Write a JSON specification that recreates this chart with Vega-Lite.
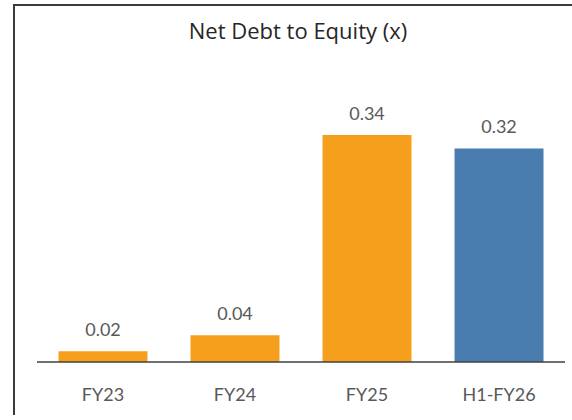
{
  "$schema": "https://vega.github.io/schema/vega-lite/v6.json",
  "autosize": {"type": "none"},
  "padding": {"left": 14, "top": 5, "right": -16, "bottom": -15},
  "width": 574,
  "height": 425,
  "background": "white",
  "config": {
    "view": {"stroke": "#3b3b3b", "strokeWidth": 2},
    "font": "Lato"
  },
  "title": {
    "text": "Net Debt to Equity (x)",
    "font": "Open Sans",
    "fontSize": 22,
    "fontWeight": "normal",
    "color": "#262626",
    "baseline": "alphabetic",
    "offset": -56,
    "dx": -3,
    "limit": 0
  },
  "data": {
    "values": [
      {"period": "FY23", "value": 0.016, "kind": "annual"},
      {"period": "FY24", "value": 0.04, "kind": "annual"},
      {"period": "FY25", "value": 0.34, "kind": "annual"},
      {"period": "H1-FY26", "value": 0.32, "kind": "half-year"}
    ]
  },
  "encoding": {
    "x": {"field": "period", "type": "nominal", "sort": null,
          "scale": {"paddingInner": 0.326, "paddingOuter": 0.337},
          "axis": {"title": null, "domain": false, "ticks": false, "tickSize": 0, "grid": false,
                   "labelAngle": 0, "labelFont": "Lato", "labelFontSize": 18, "labelColor": "#595959",
                   "labelBaseline": "alphabetic", "labelPadding": 38, "offset": -68}}
  },
  "layer": [
    {
      "mark": {"type": "bar"},
      "encoding": {
        "y": {"field": "value", "type": "quantitative",
              "scale": {"domain": [-0.1019, 0.5348], "nice": false, "zero": false},
              "axis": null},
        "y2": {"datum": 0},
        "color": {"field": "kind", "type": "nominal",
                  "scale": {"domain": ["annual", "half-year"], "range": ["#F59F1C", "#497DB0"]},
                  "legend": null}
      }
    },
    {
      "mark": {"type": "tick", "size": 132, "thickness": 1.6, "color": "#404040", "opacity": 1},
      "encoding": {
        "y": {"datum": 0, "type": "quantitative"}
      }
    },
    {
      "mark": {"type": "text", "baseline": "alphabetic", "dy": -15, "font": "Lato", "fontSize": 18, "color": "#595959"},
      "encoding": {
        "y": {"field": "value", "type": "quantitative"},
        "text": {"field": "value", "type": "quantitative", "format": ".2f"}
      }
    }
  ]
}
